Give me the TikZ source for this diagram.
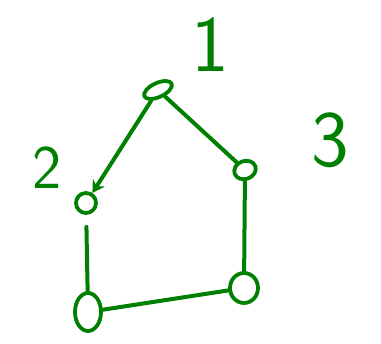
\documentclass[tikz,border=0pt]{standalone}
\usepackage{fontspec}
\setmainfont{DejaVu Sans}
\usetikzlibrary{shapes.geometric,arrows.meta}
\definecolor{pen}{RGB}{0,128,0}
\begin{document}
\begin{tikzpicture}[x=1pt,y=-1pt,
  vert/.style={ellipse,draw=pen,line width=3.8pt,inner sep=0pt},
  edge/.style={draw=pen,line width=4pt,line cap=round},
  lab/.style={text=pen,font=\fontsize{80}{80}\selectfont\sffamily,inner sep=0pt}]
\useasboundingbox (0,0) rectangle (381,344);
\node[vert,minimum width=30pt,minimum height=14pt,rotate=25] (n1) at (158,90) {};
\node[vert,minimum width=20pt,minimum height=20pt] (n2) at (86,203) {};
\node[vert,minimum width=22pt,minimum height=18pt,rotate=20] (n3) at (245,170) {};
\node[vert,minimum width=28pt,minimum height=30pt] (n4) at (244,288) {};
\node[vert,minimum width=26pt,minimum height=38pt] (n5) at (88,312) {};
\node[lab] (l1) at (210,45) {1};
\node[lab,font=\fontsize{62}{62}\selectfont\sffamily] (l2) at (47,168) {2};
\node[lab] (l3) at (330,140) {3};
\draw[edge,-{Stealth[length=12pt,width=14pt]}] (n1) -- (n2);
\draw[edge] (n1) -- (n3);
\draw[edge] (n3) -- (n4);
\draw[edge,shorten <=12pt] (n2) -- (n5);
\draw[edge] (n4) -- (n5);
\end{tikzpicture}
\end{document}
